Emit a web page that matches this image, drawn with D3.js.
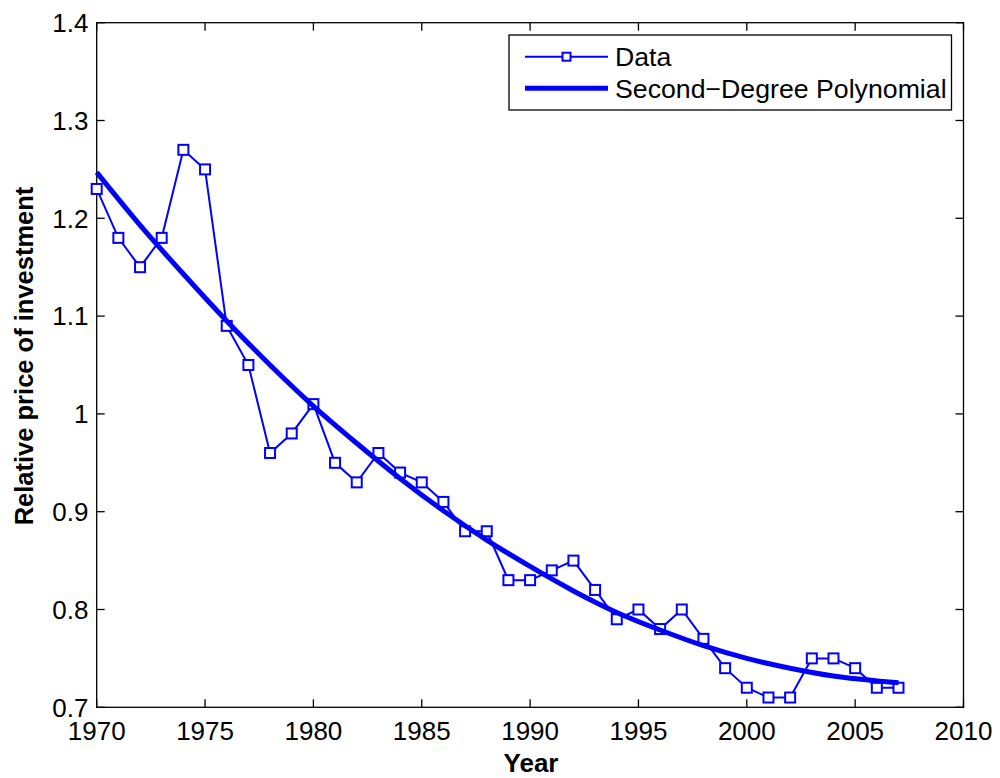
<!DOCTYPE html>
<html><head><meta charset="utf-8">
<script src="https://cdn.jsdelivr.net/npm/d3@7"></script>
<style>body{margin:0;background:#fff}svg{display:block}text{font-family:"Liberation Sans",Arial,Helvetica,sans-serif}</style>
</head><body>
<script>
const years = [1970,1971,1972,1973,1974,1975,1976,1977,1978,1979,1980,1981,1982,1983,1984,1985,1986,1987,1988,1989,1990,1991,1992,1993,1994,1995,1996,1997,1998,1999,2000,2001,2002,2003,2004,2005,2006,2007];
const prices = [1.23,1.18,1.15,1.18,1.27,1.25,1.09,1.05,0.96,0.98,1.01,0.95,0.93,0.96,0.94,0.93,0.91,0.88,0.88,0.83,0.83,0.84,0.85,0.82,0.79,0.80,0.78,0.80,0.77,0.74,0.72,0.71,0.71,0.75,0.75,0.74,0.72,0.72];
const fitYears = [1970,1972,1974,1976,1978,1980,1982,1984,1986,1988,1990,1992,1994,1996,1998,2000,2002,2004,2006,2007];
const fitValues = [1.247,1.193,1.143,1.095,1.050,1.008,0.970,0.934,0.901,0.871,0.844,0.819,0.797,0.779,0.763,0.750,0.740,0.732,0.727,0.725];
const xTicks = [1970,1975,1980,1985,1990,1995,2000,2005,2010];
const yTicks = [0.7,0.8,0.9,1.0,1.1,1.2,1.3,1.4];
const legendLabels = ["Data","Second\u2212Degree Polynomial"];

const W=1000,H=778;
const L=96.7,R=963.5,T=22.7,B=707.3;
const svg=d3.select("body").append("svg").attr("width",W).attr("height",H);
const x=d3.scaleLinear().domain([1970,2010]).range([L,R]);
const y=d3.scaleLinear().domain([0.7,1.4]).range([B,T]);
const blue="#0000ff";
const fs=26;

// axes (MATLAB box with inward ticks)
const tl=8;
const g=svg.append("g").attr("stroke","#000").attr("stroke-width",1.3);
g.append("rect").attr("x",L).attr("y",T).attr("width",R-L).attr("height",B-T).attr("fill","none");
xTicks.forEach(v=>{
  g.append("line").attr("x1",x(v)).attr("x2",x(v)).attr("y1",B).attr("y2",B-tl);
  g.append("line").attr("x1",x(v)).attr("x2",x(v)).attr("y1",T).attr("y2",T+tl);
});
yTicks.forEach(v=>{
  g.append("line").attr("x1",L).attr("x2",L+tl).attr("y1",y(v)).attr("y2",y(v));
  g.append("line").attr("x1",R).attr("x2",R-tl).attr("y1",y(v)).attr("y2",y(v));
});
svg.append("g").selectAll("text").data(xTicks).join("text")
  .attr("x",d=>x(d)).attr("y",740).attr("text-anchor","middle").attr("font-size",fs).text(d=>d);
svg.append("g").selectAll("text").data(yTicks).join("text")
  .attr("x",88.5).attr("y",d=>y(d)).attr("dy","0.36em").attr("text-anchor","end").attr("font-size",fs)
  .text(d=>d3.format("")(+d.toFixed(1)));
svg.append("text").attr("x",531).attr("y",771.5).attr("text-anchor","middle").attr("font-size",fs)
  .attr("font-weight","bold").text("Year");
svg.append("text").attr("transform",`translate(33,356) rotate(-90)`).attr("text-anchor","middle")
  .attr("font-size",25.5).attr("font-weight","bold").text("Relative price of investment");

// data
const pts=years.map((yr,i)=>[yr,prices[i]]);
const line=d3.line().x(d=>x(d[0])).y(d=>y(d[1]));
svg.append("path").attr("d",line(pts)).attr("fill","none").attr("stroke",blue).attr("stroke-width",2);
const ms=10;
svg.append("g").selectAll("rect").data(pts).join("rect")
  .attr("x",d=>x(d[0])-ms/2).attr("y",d=>y(d[1])-ms/2).attr("width",ms).attr("height",ms)
  .attr("fill","#fff").attr("stroke",blue).attr("stroke-width",2);
// fit curve
const fit=fitYears.map((yr,i)=>[yr,fitValues[i]]);
svg.append("path").attr("d",d3.line().curve(d3.curveMonotoneX).x(d=>x(d[0])).y(d=>y(d[1]))(fit))
  .attr("fill","none").attr("stroke",blue).attr("stroke-width",5);

// legend
const lg=svg.append("g");
lg.append("rect").attr("x",509).attr("y",35).attr("width",442.5).attr("height",75).attr("fill","#fff").attr("stroke","#000").attr("stroke-width",1.3);
lg.append("line").attr("x1",525).attr("x2",608).attr("y1",56.7).attr("y2",56.7).attr("stroke",blue).attr("stroke-width",2);
lg.append("rect").attr("x",566.5-4).attr("y",56.7-4).attr("width",8).attr("height",8).attr("fill","#fff").attr("stroke",blue).attr("stroke-width",2);
lg.append("line").attr("x1",525).attr("x2",608).attr("y1",88.3).attr("y2",88.3).attr("stroke",blue).attr("stroke-width",5);
lg.selectAll("text.l").data(legendLabels).join("text").attr("x",615).attr("y",(d,i)=>[56.7,88.3][i]).attr("dy","0.36em")
  .attr("font-size",26.7).text(d=>d);
</script>
</body></html>
